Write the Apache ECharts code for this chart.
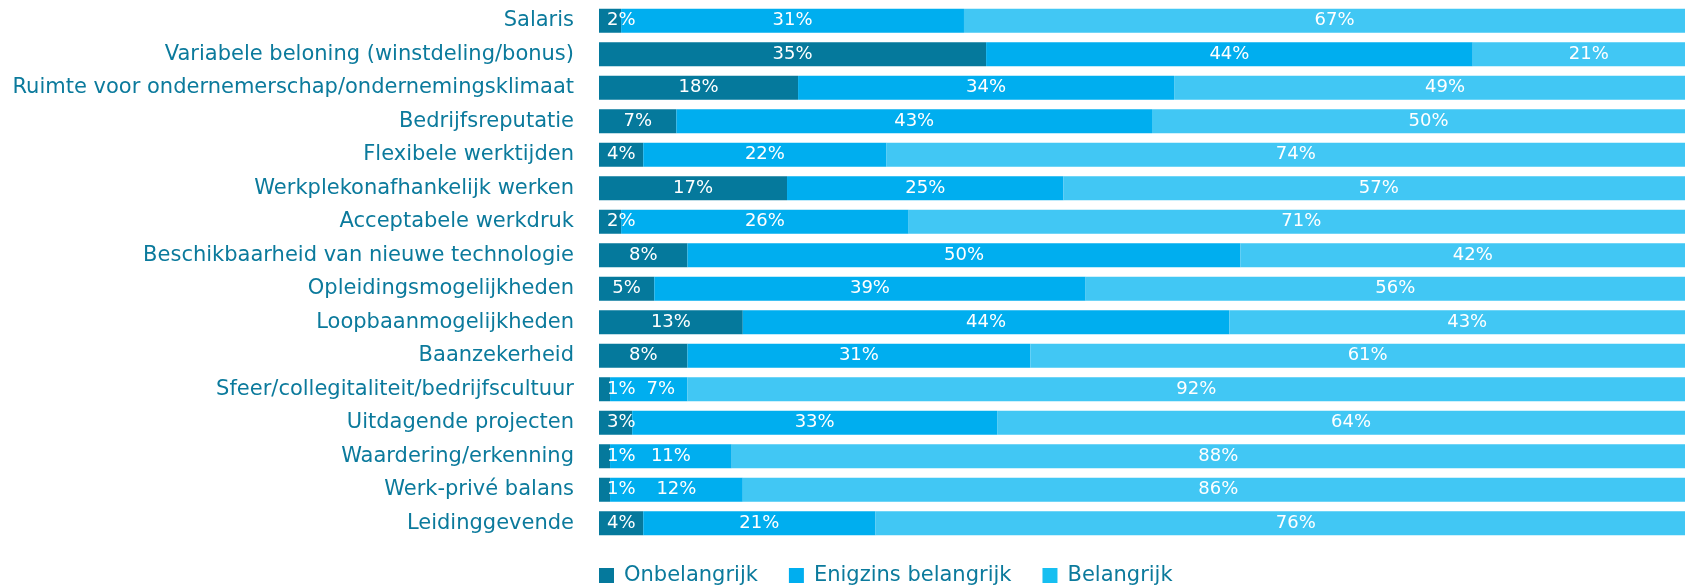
<!DOCTYPE html>
<html>
<head>
<meta charset="utf-8">
<script src="https://cdn.jsdelivr.net/npm/echarts@6/dist/echarts.min.js"></script>
<style>
  html, body { margin: 0; padding: 0; background: #fff; overflow: hidden; }
  /* the original chart runs on past the right edge of the picture */
  #chart { width: 1705px; height: 585px; }
</style>
</head>
<body>
<div id="chart"></div>
<script>
var categories = [
    'Salaris',
    'Variabele beloning (winstdeling/bonus)',
    'Ruimte voor ondernemerschap/ondernemingsklimaat',
    'Bedrijfsreputatie',
    'Flexibele werktijden',
    'Werkplekonafhankelijk werken',
    'Acceptabele werkdruk',
    'Beschikbaarheid van nieuwe technologie',
    'Opleidingsmogelijkheden',
    'Loopbaanmogelijkheden',
    'Baanzekerheid',
    'Sfeer/collegitaliteit/bedrijfscultuur',
    'Uitdagende projecten',
    'Waardering/erkenning',
    'Werk-privé balans',
    'Leidinggevende'
];

var onbelangrijk = [2, 35, 18, 7, 4, 17, 2, 8, 5, 13, 8, 1, 3, 1, 1, 4];
var enigzins = [31, 44, 34, 43, 22, 25, 26, 50, 39, 44, 31, 7, 33, 11, 12, 21];
var belangrijk = [67, 21, 49, 50, 74, 57, 71, 42, 56, 43, 61, 92, 64, 88, 86, 76];

var seriesNames = ['Onbelangrijk', 'Enigzins belangrijk', 'Belangrijk'];
var colors = ['#05799c', '#00aeef', '#41c7f4'];
var legendColors = ['#05799c', '#00aeef', '#16bff1'];

var fontFamily = 'DejaVu Sans';
var textColor = '#0b7a9c';

// narrow segments: label hugs the left end instead of hanging off the bar
function firstLabels(data) {
    return data.map(function (v) {
        if (v < 5) {
            return { value: v, label: { position: 'insideLeft', distance: 8 } };
        }
        return v;
    });
}

// narrow middle segments: nudge the label right, clear of the 1% label
function middleLabels(data) {
    return data.map(function (v) {
        if (v < 10) {
            return { value: v, label: { offset: [12, 0] } };
        }
        return v;
    });
}

function makeSeries(name, data, color) {
    return {
        name: name,
        type: 'bar',
        stack: 'total',
        data: data,
        barWidth: 24,
        clip: false,
        itemStyle: { color: color },
        label: {
            show: true,
            position: 'inside',
            color: '#fff',
            fontFamily: fontFamily,
            fontSize: 18,
            formatter: '{c}%'
        },
        emphasis: { disabled: true }
    };
}

var myChart = echarts.init(document.getElementById('chart'), null, { renderer: 'canvas' });

var option = {
    animation: false,
    color: colors,
    grid: {
        left: 599,
        right: 0,
        top: 4,
        bottom: 45
    },
    legend: {
        left: 599,
        top: 565,
        padding: 0,
        itemWidth: 15,
        itemHeight: 15,
        itemGap: 31,
        icon: 'rect',
        textStyle: {
            color: textColor,
            fontFamily: fontFamily,
            fontSize: 21,
            padding: [0, 0, 0, 5]
        },
        data: seriesNames.map(function (n, i) {
            return { name: n, itemStyle: { color: legendColors[i] } };
        })
    },
    xAxis: {
        type: 'value',
        min: 0,
        max: 100,
        show: false
    },
    yAxis: {
        type: 'category',
        inverse: true,
        data: categories,
        axisLine: { show: false },
        axisTick: { show: false },
        axisLabel: {
            margin: 25,
            color: textColor,
            fontFamily: fontFamily,
            fontSize: 21
        }
    },
    series: [
        makeSeries(seriesNames[0], firstLabels(onbelangrijk), colors[0]),
        makeSeries(seriesNames[1], middleLabels(enigzins), colors[1]),
        makeSeries(seriesNames[2], belangrijk, colors[2])
    ]
};

myChart.setOption(option);
</script>
</body>
</html>
